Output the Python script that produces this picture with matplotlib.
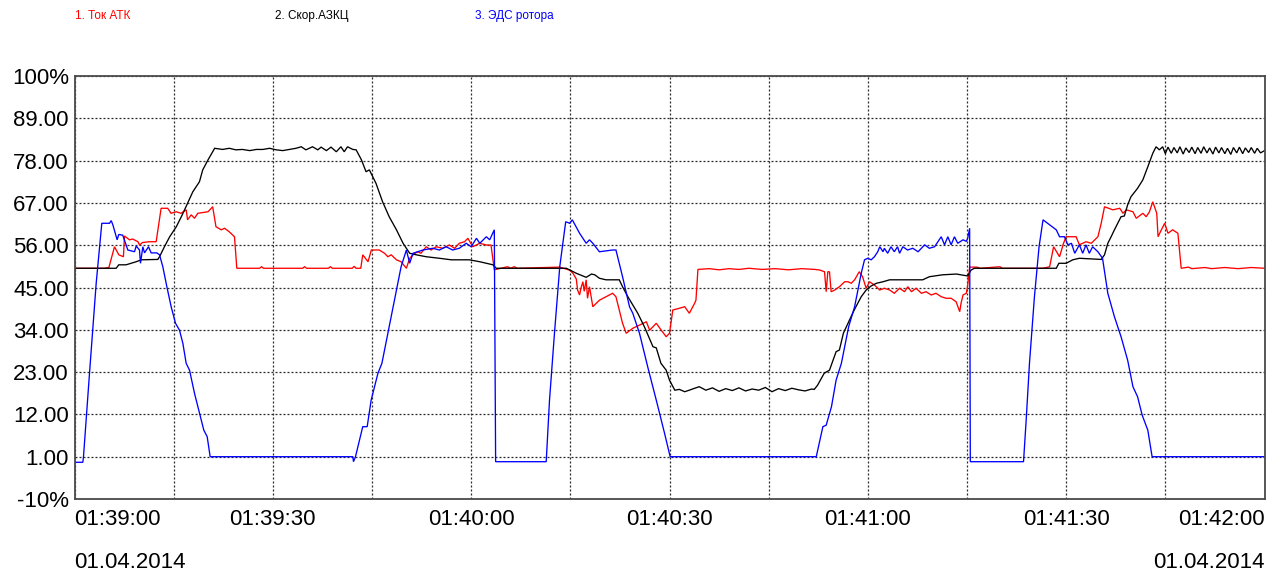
import matplotlib
matplotlib.use("Agg")
import matplotlib.pyplot as plt

plt.rcParams['font.family'] = ['Liberation Sans', 'DejaVu Sans']

# ---- labels -------------------------------------------------------------
legend_labels = ["1. Ток АТК", "2. Скор.АЗКЦ", "3. ЭДС ротора"]
series_colors = ["#ff0000", "#000000", "#0000ff"]

time_ticks = [0, 30, 60, 90, 120, 150, 180]          # seconds from 01:39:00
time_labels = ["01:39:00", "01:39:30", "01:40:00", "01:40:30",
               "01:41:00", "01:41:30", "01:42:00"]
date_label = "01.04.2014"

y_ticks = [-10, 1, 12, 23, 34, 45, 56, 67, 78, 89, 100]
y_tick_labels = ["-10%", "1.00", "12.00", "23.00", "34.00", "45.00",
                 "56.00", "67.00", "78.00", "89.00", "100%"]

# ---- 1. Ток АТК (%) -----------------------------------------------------
tok_t = [0, 4.5, 5.2, 6.05, 6.7, 7.4, 7.56, 8.32, 8.8, 9.6, 9.83, 10.3, 11.34,
         12.35, 13.1, 14.1, 14.6, 15.4, 16.1, 16.9, 17.1, 17.65, 18.15, 18.65,
         20.2, 20.9, 21.4, 22.2, 22.7, 23.4, 24.2, 24.55,
         28.0, 28.3, 28.6, 34.5, 34.8, 35.1, 38.4, 38.7, 39.0, 42.0, 42.3, 42.6,
         43.3, 43.6, 44.4, 44.9, 46.1, 46.9, 47.4, 47.9, 48.7, 49.4, 50.2, 50.7,
         51.2, 51.9, 52.4, 53.2, 53.95, 54.7, 55.7, 56.7, 57.5, 58.2, 59.0, 59.5,
         60.25, 61.3, 62.3, 63.0, 63.5, 64.5, 65.5, 66.0, 66.5, 67.0, 73.4,
         74.9, 75.4, 75.9, 76.1, 76.4, 76.6, 76.9, 77.1, 77.4, 77.6, 77.9, 78.4,
         79.4, 80.4, 81.4, 81.9, 82.4, 82.9, 83.45, 84.45, 85.5, 86.5, 87.0,
         88.0, 88.75, 89.5, 90.0, 90.5, 91.5, 92.3, 93.0, 93.8, 94.0, 94.3,
         96.0, 97.5, 99.0, 100.5, 102.0, 104.0, 106.0, 108.0, 110.0, 112.0,
         112.7, 113.45, 113.7, 113.95, 114.2, 114.45, 115.0, 115.7, 116.5, 117.0,
         117.5, 118.0, 118.7, 119.2, 119.75, 120.25, 121.0, 121.8, 122.5, 123.3,
         124.0, 124.8, 125.55, 126.05, 126.6, 127.3, 128.1, 128.8, 129.6, 130.3,
         131.1, 131.85, 132.6, 133.35, 133.9, 134.1, 134.4, 134.9, 135.1, 135.4,
         136.5, 137.0, 140.0, 140.3, 146.5, 147.5, 148.1, 149.0, 149.6, 150.0,
         151.5, 152.0, 153.0, 153.8, 154.3, 154.8, 155.3, 155.8, 157.05, 158.1,
         158.6, 159.1, 160.1, 160.6, 161.6, 162.1, 162.6, 163.1, 163.7, 163.9,
         164.4, 164.9, 165.4, 166.1, 166.9, 167.4, 168.5, 169.0, 171.0, 172.0,
         174.0, 176.0, 178.0, 180.0]
tok_v = [50.0, 50.0, 50.2, 55.6, 53.5, 53.0, 58.4, 57.4, 57.6, 56.9, 56.05, 56.7,
         56.9, 56.9, 65.6, 65.6, 64.3, 64.7, 64.3, 65.2, 62.6, 63.9, 63.0, 64.3,
         64.7, 66.0, 60.8, 60.0, 60.4, 59.5, 58.2, 50.0,
         50.0, 50.4, 50.0, 50.0, 50.4, 50.0, 50.0, 50.4, 50.0, 50.0, 50.5, 50.0,
         50.0, 53.5, 51.7, 54.75, 54.75, 53.9, 53.0, 53.5, 52.2, 51.7, 50.0, 52.6,
         53.5, 54.3, 53.9, 55.6, 54.75, 55.6, 55.2, 56.05, 55.2, 56.5, 56.9, 57.8,
         55.6, 56.5, 56.05, 56.05, 49.6, 50.0, 50.4, 50.0, 50.4, 50.0, 50.3,
         49.5, 48.7, 47.2, 44.35, 43.05, 44.8, 46.5, 44.0, 47.0, 42.2, 45.2, 40.0,
         41.7, 42.6, 43.5, 42.6, 39.15, 35.7, 33.1, 34.4, 35.25, 36.1, 33.9,
         35.7, 33.9, 32.2, 33.1, 39.15, 39.6, 40.0, 38.3, 40.9, 41.7, 49.7,
         49.9, 49.6, 49.9, 49.7, 50.0, 49.7, 49.9, 49.6, 49.9, 49.7,
         49.55, 49.1, 43.9, 49.1, 49.1, 43.9, 44.35, 45.2, 46.5, 46.5,
         46.1, 47.0, 49.1, 47.8, 44.8, 46.5, 45.65, 44.35, 44.8, 44.35,
         43.5, 44.8, 43.9, 45.2, 43.9, 44.8, 43.5, 43.9, 43.05, 43.5,
         42.6, 42.2, 42.2, 41.3, 38.7, 40.9, 43.05, 43.5, 45.5, 50.3,
         50.3, 50.0, 50.4, 50.0, 50.0, 50.4, 55.6, 53.0, 56.5, 58.2,
         58.2, 56.1, 56.9, 56.5, 57.35, 58.2, 61.7, 66.0, 65.2, 65.6,
         64.3, 65.2, 64.7, 63.0, 64.3, 63.4, 64.7, 67.3, 64.3, 58.2,
         60.0, 61.7, 59.1, 60.0, 59.1, 50.0, 50.3, 49.9, 50.2, 49.9,
         50.2, 49.9, 50.2, 50.0]

# ---- 2. Скор.АЗКЦ (%) ---------------------------------------------------
skor_t = [0, 6.3, 6.7, 7.8, 9.33, 10.1, 12.6, 12.86, 13.6, 14.4, 15.4, 16.3, 17.1,
          17.9, 18.9, 19.4, 20.2, 21.2, 22.4, 23.4, 24.4, 25.4, 26.5, 27.5, 28.5,
          29.5, 30.5, 31.5, 32.5, 33.5, 34.3, 35.0, 36.0, 36.8, 37.3, 38.1, 38.8,
          39.6, 40.3, 40.8, 41.3, 42.1, 42.6, 43.4, 44.1, 44.6, 45.6, 46.6, 47.6,
          48.7, 49.7, 50.7, 51.7, 53.2, 55.2, 57.0, 59.7, 61.3, 63.3, 63.8, 74.4,
          75.1, 75.9, 76.9, 77.4, 78.2, 78.7, 79.4, 80.4, 82.4, 82.9, 83.7, 85.2,
          86.2, 87.5, 88.0, 88.7, 89.5, 90.0, 90.8, 91.5, 92.3, 93.0, 93.8, 94.5,
          95.5, 96.5, 97.5, 98.5, 99.5, 100.5, 101.5, 102.5, 103.5, 104.5, 105.5,
          106.5, 107.5, 108.5, 109.5, 110.5, 111.5, 111.9, 112.4, 113.4, 114.2,
          115.2, 115.7, 116.3, 117.0, 117.7, 118.2, 119.0, 119.75, 120.5, 121.3,
          122.3, 123.3, 128.3, 129.3, 131.3, 133.4, 135.1, 135.6, 136.1, 148.5,
          148.9, 150.0, 151.0, 152.0, 155.3, 155.8, 156.3, 156.8, 157.3, 158.3,
          158.8, 159.3, 159.8, 160.8, 161.6, 162.35, 163.1, 163.6, 164.1, 164.6,
          165.0, 165.4, 165.9, 166.3, 166.8, 167.2, 167.7, 168.1, 168.6, 169.0,
          169.5, 169.9, 170.4, 170.8, 171.3, 171.7, 172.2, 172.6, 173.1, 173.5,
          174.0, 174.4, 174.9, 175.3, 175.8, 176.2, 176.7, 177.1, 177.6, 178.0,
          178.5, 178.9, 179.4, 180.0]
skor_v = [50.0, 50.0, 50.9, 50.9, 51.7, 52.2, 52.3, 53.0, 55.6, 58.2, 60.8, 63.9,
          66.9, 69.9, 72.5, 75.6, 78.2, 81.2, 80.9, 81.2, 80.8, 80.9, 80.6, 80.9,
          80.9, 81.2, 80.8, 80.6, 80.9, 81.2, 81.6, 80.8, 81.6, 80.8, 81.5, 80.6,
          81.5, 80.3, 81.6, 80.3, 81.6, 80.9, 80.8, 78.2, 75.1, 75.6, 72.1, 67.3,
          63.4, 60.0, 56.5, 53.9, 53.5, 53.0, 52.6, 52.2, 52.2, 51.7, 50.9, 50.0,
          50.0, 49.4, 48.7, 48.0, 47.65, 48.5, 48.3, 47.4, 47.0, 47.0, 45.2, 42.6,
          38.3, 34.8, 29.6, 29.3, 25.3, 23.5, 20.9, 18.3, 18.5, 17.9, 18.3, 18.8,
          19.2, 18.3, 18.9, 18.0, 18.7, 18.2, 18.9, 18.1, 18.6, 18.3, 19.0, 17.9,
          18.7, 18.2, 18.8, 18.4, 18.1, 18.6, 18.5, 19.6, 22.7, 23.5,
          28.3, 28.75, 33.1, 35.7, 38.3, 40.0, 42.6, 44.35, 45.4, 46.1,
          46.5, 47.0, 47.0, 47.8, 48.3, 48.5, 48.0, 49.5, 50.0, 50.0,
          51.3, 51.3, 52.2, 52.6, 52.3, 53.5, 56.5, 58.2, 60.0, 63.4,
          63.6, 66.5, 68.6, 70.8, 73.0, 76.4, 79.9, 81.6, 80.8, 81.6,
          79.8, 81.5, 79.9, 81.4, 80.0, 81.6, 79.7, 81.3, 80.1, 81.5,
          79.8, 81.4, 79.9, 81.6, 80.0, 81.3, 79.7, 81.5, 80.0, 81.4,
          79.8, 81.2, 79.6, 81.4, 80.0, 81.5, 79.8, 81.3, 80.1, 81.4,
          79.9, 81.2, 80.0, 80.6]

# ---- 3. ЭДС ротора (%) --------------------------------------------------
eds_t = [0, 1.26, 1.36, 2.27, 3.28, 4.13, 5.29, 5.55, 5.8, 6.45, 6.7, 7.3, 8.07,
         9.08, 9.33, 9.83, 9.98, 10.34, 10.59, 11.19, 11.6, 12.45, 12.86, 13.36,
         13.97, 14.62, 15.28, 15.88, 16.39, 16.89, 17.4, 18.15, 18.8, 19.56,
         20.07, 20.52, 42.1, 42.2, 42.5, 43.6, 44.27, 44.87, 45.9, 46.5, 47.4,
         48.4, 49.4, 50.2, 50.7, 51.2, 52.7, 54.2, 55.2, 56.2, 57.2, 58.2, 59.25,
         60.0, 60.8, 61.3, 62.3, 62.8, 63.5, 63.7, 71.35, 71.85, 72.6, 73.4, 74.3,
         74.9, 75.3, 76.4, 77.4, 77.9, 78.4, 79.4, 81.4, 81.9, 82.9, 83.95, 84.45,
         85.46, 86.2, 86.7, 88.0, 89.25, 90.1, 112.2, 113.2, 113.7, 114.5, 115.2,
         116.0, 116.5, 117.1, 118.0, 118.5, 119.0, 119.5, 120.0, 120.5, 121.0,
         121.5, 121.8, 122.3, 122.5, 123.0, 123.5, 124.0, 124.5, 124.8, 125.3,
         126.0, 126.8, 127.6, 128.6, 129.3, 130.1, 130.6, 131.1, 131.6, 132.1,
         132.6, 133.1, 133.6, 134.4, 134.9, 135.1, 135.4, 135.5, 143.55, 143.95,
         144.45, 145.2, 145.9, 146.5, 147.2, 148.5, 149.0, 149.75, 150.25, 150.8,
         151.3, 152.0, 152.5, 153.0, 153.5, 154.0, 154.8, 155.5, 156.3, 157.3,
         158.3, 159.3, 160.1, 160.8, 161.5, 162.35, 163.0, 180.0]
eds_v = [-0.45, -0.45, 1.0, 22.7, 46.1, 61.7, 61.7, 62.4, 61.3, 57.4, 58.8, 58.6,
         54.75, 54.3, 55.8, 54.75, 51.3, 55.6, 54.0, 55.6, 54.0, 54.0, 53.5, 50.4,
         45.2, 40.0, 35.7, 33.9, 30.5, 25.3, 23.5, 17.5, 13.1, 7.9,
         6.2, 1.0, 1.0, -0.3, 1.0, 8.8, 8.8, 15.7, 22.7, 25.3, 33.1,
         41.7, 50.4, 54.75, 51.3, 53.9, 54.75, 55.2, 54.75, 55.6, 54.75, 55.2, 56.5,
         55.6, 57.8, 56.5, 58.2, 57.4, 60.0, -0.3, -0.3, 15.7, 33.1, 50.4, 62.1,
         61.7, 62.6, 59.1, 56.5, 57.4, 56.5, 54.3, 54.75, 54.75, 47.8, 40.0, 38.3,
         33.1, 27.9, 24.4, 15.7, 7.1, 1.0, 1.0, 8.8, 9.2, 14.0, 20.9,
         25.3, 29.6, 34.8, 40.0, 44.35, 48.7, 52.2, 52.6, 52.2, 53.0,
         54.3, 55.6, 54.3, 55.2, 53.9, 55.6, 54.3, 55.6, 53.9, 55.6,
         54.75, 55.2, 54.3, 56.1, 55.2, 55.6, 56.9, 58.2, 56.1, 58.2,
         56.1, 58.2, 56.5, 57.4, 57.0, 57.8, 60.4, -0.3, -0.3, 10.5,
         25.3, 42.6, 55.6, 62.6, 61.7, 60.0, 58.2, 58.2, 56.1, 56.5,
         53.9, 56.1, 53.9, 56.1, 53.9, 55.6, 54.3, 52.6, 43.5, 37.4,
         32.2, 26.1, 19.2, 16.6, 11.8, 7.9, 1.0, 1.0]

# ---- figure -------------------------------------------------------------
W, H = 1283, 575
fig = plt.figure(figsize=(W / 100, H / 100), dpi=100, facecolor="white")
ax = fig.add_axes([74.5 / W, (H - 499) / H, 1190 / W, 423 / H])

ax.set_xlim(0, 180)
ax.set_ylim(-10, 100)

series = [(tok_t, tok_v), (skor_t, skor_v), (eds_t, eds_v)]
for z, ((ts, vs), col) in enumerate(zip(series, series_colors)):
    ax.plot(ts, vs, color=col, lw=0.95, zorder=3 + z, solid_joinstyle="miter")

# dotted grid every 15 s and every 11 %
ax.set_xticks(range(0, 181, 15))
xt_labels = [time_labels[time_ticks.index(s)] if s in time_ticks else ""
             for s in range(0, 181, 15)]
ax.set_xticklabels(xt_labels)
ax.set_yticks(y_ticks)
ax.set_yticklabels(y_tick_labels)
ax.grid(True, color="#2a2a2a", lw=0.9, linestyle=(0, (1.6, 1.6)), zorder=1)
ax.set_axisbelow(True)

ax.tick_params(axis="both", length=0, labelsize=16, colors="black")
ax.tick_params(axis="y", pad=4)
ax.tick_params(axis="x", pad=7)
xl = ax.get_xticklabels()
xl[0].set_horizontalalignment("left")
xl[-1].set_horizontalalignment("right")

for sp in ax.spines.values():
    sp.set_color("#4a4a4a")
    sp.set_linewidth(1.3)
    sp.set_zorder(10)

# channel captions across the top
for x_px, txt, col in zip([75, 275, 475], legend_labels, series_colors):
    fig.text(x_px / W, 1 - 16 / H, txt, color=col, fontsize=8.5,
             ha="left", va="center")

# date under the first and last time labels
fig.text(74.5 / W, 1 - 562 / H, date_label, fontsize=16, ha="left", va="center")
fig.text(1264.5 / W, 1 - 562 / H, date_label, fontsize=16, ha="right", va="center")

fig.savefig("out.png", dpi=100, facecolor="white")
